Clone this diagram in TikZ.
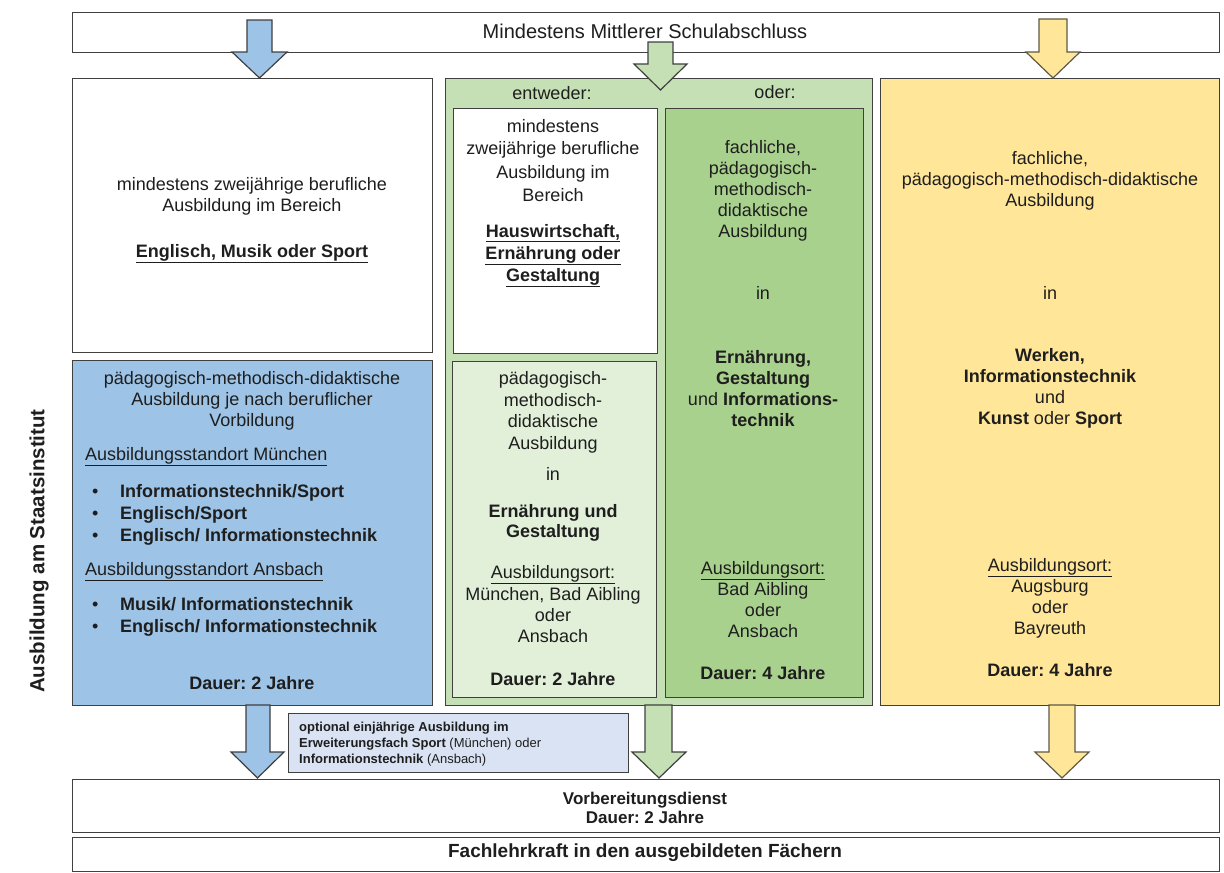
\documentclass[tikz,border=0pt]{standalone}
\usepackage{fontspec}
\setmainfont{Liberation Sans}
\frenchspacing
\newcommand{\myfs}[2]{\fontsize{#1}{#2}\selectfont}
\definecolor{bordergray}{HTML}{404040}
\definecolor{bluefill}{HTML}{9DC3E6}
\definecolor{greenfill}{HTML}{C5E0B4}
\definecolor{lightgreen}{HTML}{E2F0D9}
\definecolor{darkgreen}{HTML}{A9D18E}
\definecolor{yellowfill}{HTML}{FFE699}
\definecolor{optfill}{HTML}{DAE3F3}
\definecolor{yellowline}{HTML}{5E5A45}
\definecolor{txtcol}{HTML}{1E1E1E}
\begin{document}
\begin{tikzpicture}[x=1pt,y=-1pt,
  box/.style={draw=bordergray, line width=1.3pt, anchor=north west, inner sep=0pt},
  txt/.style={inner sep=0pt, font=\myfs{18}{21}\frenchspacing, align=center, text=txtcol},
  arr/.style={draw=bordergray, line width=1.2pt, line join=miter},
]
\useasboundingbox (0,0) rectangle (1224,873);
\fill[white] (0,0) rectangle (1224,873);

% boxes
\node[box, fill=white, minimum width=1147pt, minimum height=40pt] (top) at (72,12) {};
\node[box, fill=white, minimum width=360pt, minimum height=274pt] (wleft) at (72,78) {};
\node[box, fill=bluefill, minimum width=360pt, minimum height=345pt] (blue) at (72,360) {};
\node[box, fill=greenfill, minimum width=427pt, minimum height=627pt] (gouter) at (445,78) {};
\node[box, fill=white, minimum width=204pt, minimum height=245pt] (winner) at (453,108) {};
\node[box, fill=lightgreen, minimum width=204pt, minimum height=336pt] (lgreen) at (452,361) {};
\node[box, fill=darkgreen, minimum width=198pt, minimum height=589pt] (dgreen) at (665,108) {};
\node[box, fill=yellowfill, minimum width=339pt, minimum height=627pt] (yellow) at (880,78) {};
\node[box, fill=optfill, minimum width=340pt, minimum height=59pt] (opt) at (288,713) {};
\node[box, fill=white, minimum width=1147pt, minimum height=53pt] (vorb) at (72,779) {};
\node[box, fill=white, minimum width=1147pt, minimum height=34pt] (fach) at (72,837) {};

% arrows (top)
\draw[arr, fill=bluefill] (247,20) -- (272,20) -- (272,52) -- (287,52) -- (259.5,78) -- (232,52) -- (247,52) -- cycle;
\draw[arr, fill=greenfill] (648,42) -- (673,42) -- (673,64) -- (687,64) -- (660.5,90) -- (634,64) -- (648,64) -- cycle;
\draw[arr, draw=yellowline, fill=yellowfill] (1039,19) -- (1067,19) -- (1067,52) -- (1080,52) -- (1053,78) -- (1026,52) -- (1039,52) -- cycle;
% arrows (bottom)
\draw[arr, fill=bluefill] (246,705) -- (270,705) -- (270,752) -- (284,752) -- (257.5,778) -- (231,752) -- (246,752) -- cycle;
\draw[arr, fill=greenfill] (645,705) -- (672,705) -- (672,752) -- (686,752) -- (659,778) -- (632,752) -- (645,752) -- cycle;
\draw[arr, draw=yellowline, fill=yellowfill] (1049,705) -- (1075,705) -- (1075,752) -- (1089,752) -- (1062,778) -- (1035,752) -- (1049,752) -- cycle;

% texts
\node[txt, font=\myfs{20}{23}] (tTop) at (645,31) {Mindestens Mittlerer Schulabschluss};

\node[txt, anchor=north] (tWL) at (252,177) {mindestens zweijährige berufliche\\Ausbildung im Bereich\\[25pt]\textbf{\underline{Englisch, Musik oder Sport}}};

\node[txt, anchor=north] (tB1) at (252,371) {pädagogisch-methodisch-didaktische\\Ausbildung je nach beruflicher\\Vorbildung};
\node[txt, anchor=north west, align=left] (tB2) at (85,447) {\underline{Ausbildungsstandort München}\\[16pt]
\hspace*{7pt}\makebox[28pt][l]{\textbullet}\textbf{Informationstechnik/Sport}\\[1pt]
\hspace*{7pt}\makebox[28pt][l]{\textbullet}\textbf{Englisch/Sport}\\[1pt]
\hspace*{7pt}\makebox[28pt][l]{\textbullet}\textbf{Englisch/ Informationstechnik}\\[13pt]
\underline{Ausbildungsstandort Ansbach}\\[14pt]
\hspace*{7pt}\makebox[28pt][l]{\textbullet}\textbf{Musik/ Informationstechnik}\\[1pt]
\hspace*{7pt}\makebox[28pt][l]{\textbullet}\textbf{Englisch/ Informationstechnik}};
\node[txt, anchor=north] (tB3) at (252,676) {\textbf{Dauer: 2 Jahre}};

\node[txt] (tEnt) at (552,93) {entweder:};
\node[txt] (tOder) at (775,92) {oder:};

\node[txt, anchor=north] (tWI) at (553,119) {mindestens\\[1pt]zweijährige berufliche\\[3pt]Ausbildung im\\[2pt]Bereich\\[15pt]\textbf{\underline{Hauswirtschaft,}}\\[1pt]\textbf{\underline{Ernährung oder}}\\[1pt]\textbf{\underline{Gestaltung}}};

\node[txt, anchor=north] (tLG1) at (553,371) {pädagogisch-\\[1pt]methodisch-\\didaktische\\[1pt]Ausbildung};
\node[txt] (tLG2) at (553,474) {in};
\node[txt, anchor=north] (tLG3) at (553,504) {\textbf{Ernährung und}\\[-1pt]\textbf{Gestaltung}};
\node[txt, anchor=north] (tLG4) at (553,565) {\underline{Ausbildungsort:}\\[1pt]München, Bad Aibling\\oder\\Ansbach};
\node[txt, anchor=north] (tLG5) at (553,672) {\textbf{Dauer: 2 Jahre}};

\node[txt, anchor=north] (tDG1) at (763,140) {fachliche,\\pädagogisch-\\methodisch-\\didaktische\\Ausbildung};
\node[txt] (tDG2) at (763,293) {in};
\node[txt, anchor=north] (tDG3) at (763,350) {\textbf{Ernährung,}\\\textbf{Gestaltung}\\und \textbf{Informations-}\\\textbf{technik}};
\node[txt, anchor=north] (tDG4) at (763,561) {\underline{Ausbildungsort:}\\Bad Aibling\\oder\\Ansbach};
\node[txt, anchor=north] (tDG5) at (763,666) {\textbf{Dauer: 4 Jahre}};

\node[txt, anchor=north] (tY1) at (1050,151) {fachliche,\\pädagogisch-methodisch-didaktische\\Ausbildung};
\node[txt] (tY2) at (1050,293) {in};
\node[txt, anchor=north] (tY3) at (1050,348) {\textbf{Werken,}\\\textbf{Informationstechnik}\\und\\\textbf{Kunst} oder \textbf{Sport}};
\node[txt, anchor=north] (tY4) at (1050,558) {\underline{Ausbildungsort:}\\Augsburg\\oder\\Bayreuth};
\node[txt, anchor=north] (tY5) at (1050,663) {\textbf{Dauer: 4 Jahre}};

\node[txt, anchor=north west, align=left, font=\myfs{13}{16}] (tOpt) at (299,722) {\textbf{optional einjährige Ausbildung im}\\\textbf{Erweiterungsfach Sport} (München) oder\\\textbf{Informationstechnik} (Ansbach)};

\node[txt, anchor=north, font=\myfs{17}{19}] (tVorb) at (645,792) {\textbf{Vorbereitungsdienst}\\\textbf{Dauer: 2 Jahre}};
\node[txt, font=\myfs{19}{22}] (tFach) at (645,853) {\textbf{Fachlehrkraft in den ausgebildeten Fächern}};

\node[txt, font=\myfs{20.5}{23}, rotate=90] (tSide) at (39,551) {\textbf{Ausbildung am Staatsinstitut}};
\end{tikzpicture}
\end{document}
